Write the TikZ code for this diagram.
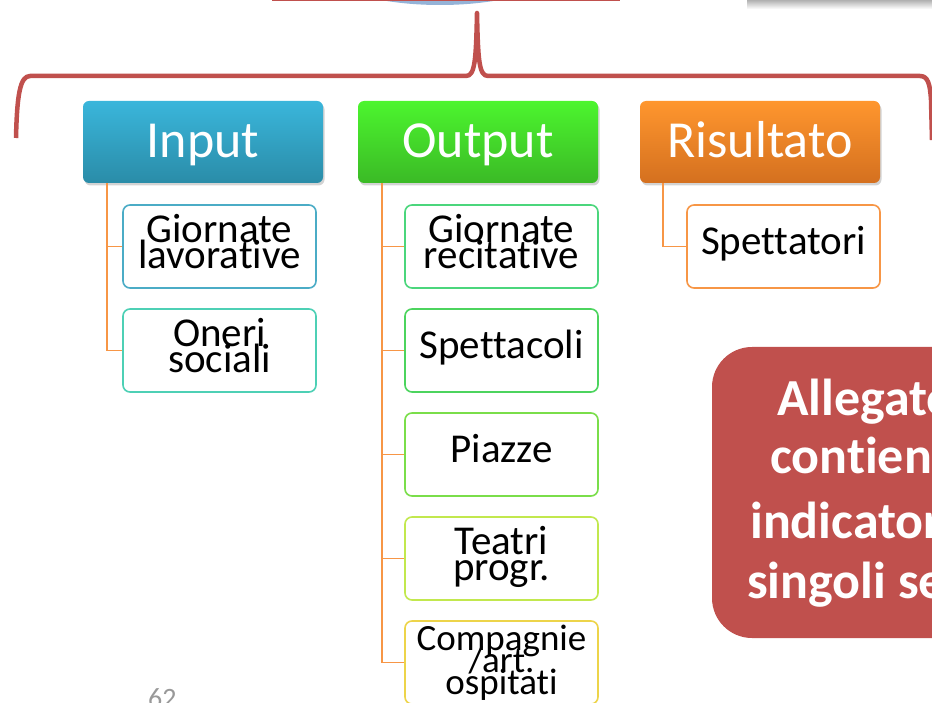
\documentclass[tikz,border=0pt]{standalone}
\usepackage{fontspec}
\setmainfont{Carlito}[Ligatures=NoCommon]
\usetikzlibrary{shadows}
\definecolor{inT}{HTML}{3AB6DB}
\definecolor{inB}{HTML}{2A8CA8}
\definecolor{outT}{HTML}{4CF52E}
\definecolor{outB}{HTML}{3BBA26}
\definecolor{resT}{HTML}{FF962E}
\definecolor{resB}{HTML}{D4701F}
\definecolor{bGl}{HTML}{4BACC6}
\definecolor{bOn}{HTML}{4DD0B5}
\definecolor{bGr}{HTML}{4BD67C}
\definecolor{bSp}{HTML}{4CD45E}
\definecolor{bPi}{HTML}{7ADE4A}
\definecolor{bTe}{HTML}{C2E84E}
\definecolor{bCo}{HTML}{EDD44A}
\definecolor{bSt}{HTML}{F79646}
\definecolor{linkc}{HTML}{F79646}
\definecolor{bracec}{HTML}{C0504D}
\definecolor{topblue}{HTML}{95B3D7}
\newcommand{\tightlines}{\lineskiplimit=-100pt\relax\lineskip=0pt\relax}
\begin{document}
\begin{tikzpicture}[x=1pt,y=-1pt,
  head/.style={rounded corners=6pt, minimum width=240pt, minimum height=82pt,
    text=white, font=\fontsize{52}{60}\selectfont, inner sep=0pt,
    text height=38pt, text depth=6pt,
    drop shadow={opacity=0.35, shadow xshift=1.5pt, shadow yshift=-2.5pt}},
  child/.style={draw, line width=1.6pt, rounded corners=7pt, fill=white,
    minimum width=193pt, minimum height=83pt, text width=190pt, align=center,
    font=\fontsize{41}{26}\selectfont\tightlines, inner sep=0pt,
    text height=26pt, text depth=10pt},
  two/.style={text depth=34pt},
  link/.style={draw=linkc, line width=1.9pt},
  redtext/.style={anchor=base west, inner sep=0pt, text=white,
    font=\fontsize{52}{58}\selectfont\bfseries}]
\useasboundingbox (0,0) rectangle (932,703);
\clip (0,0) rectangle (932,703);
% top fragments
\fill[topblue] (440,-35) ellipse [x radius=122, y radius=40];
\draw[bracec, line width=1.8pt] (273,-10) -- (273,0.5) -- (619,0.5) -- (619,-10);
\shade[top color=gray!75, bottom color=white] (747,-2) rectangle (940,9);
% brace
\draw[bracec, line width=4.5pt, line join=round]
  (16,138) .. controls (17,95) and (20,76) .. (30,76) -- (466,76)
  .. controls (475,76) and (476,60) .. (477,13)
  .. controls (478,60) and (479,76) .. (488,76) -- (920,76)
  .. controls (928,76) and (930,84) .. (931,100) -- (932,140);
% headers
\node[head, top color=inT, bottom color=inB] (in) at (203,142) {Input};
\node[head, top color=outT, bottom color=outB] (out) at (478,142) {Output};
\node[head, top color=resT, bottom color=resB] (res) at (760,142) {Risultato};
% children
\node[child, two, draw=bGl] (gl) at (219.5,246.5) {Giornate\\lavorative};
\node[child, two, draw=bOn] (on) at (219.5,350.5) {Oneri\\sociali};
\node[child, two, draw=bGr] (gr) at (501.5,246.5) {Giornate\\recitative};
\node[child, draw=bSp] (sp) at (501.5,350.5) {Spettacoli};
\node[child, draw=bPi] (pi) at (501.5,454.5) {Piazze};
\node[child, two, draw=bTe] (te) at (501.5,558.5) {Teatri\\progr.};
\node[child, draw=bCo, font=\fontsize{37}{22}\selectfont\tightlines, text height=24pt, text depth=49pt] (co) at (501.5,662.5) {Compagnie\\/art.\\ospitati};
\node[child, draw=bSt] (st) at (783.5,246.5) {Spettatori};
% connectors
\draw[link] ([xshift=-96pt]in.south) |- (gl.west);
\draw[link] ([xshift=-96pt]in.south) |- (on.west);
\draw[link] ([xshift=-96pt]out.south) |- (gr.west);
\draw[link] ([xshift=-96pt]out.south) |- (sp.west);
\draw[link] ([xshift=-96pt]out.south) |- (pi.west);
\draw[link] ([xshift=-96pt]out.south) |- (te.west);
\draw[link] ([xshift=-96pt]out.south) |- (co.west);
\draw[link] ([xshift=-97pt]res.south) |- (st.west);
% red note box
\fill[bracec, rounded corners=40pt] (712,347) rectangle (1010,638);
\node[redtext] (l1) at (777,415) {Allegato};
\node[redtext] (l2) at (770,473) {contiene};
\node[redtext] (l3) at (750,538) {indicatori};
\node[redtext] (l4) at (747,598) {singoli se};
% page number
\node[anchor=base west, inner sep=0pt, text=gray!80, font=\fontsize{28}{30}\selectfont] (pg) at (148,707) {62};
\end{tikzpicture}
\end{document}
